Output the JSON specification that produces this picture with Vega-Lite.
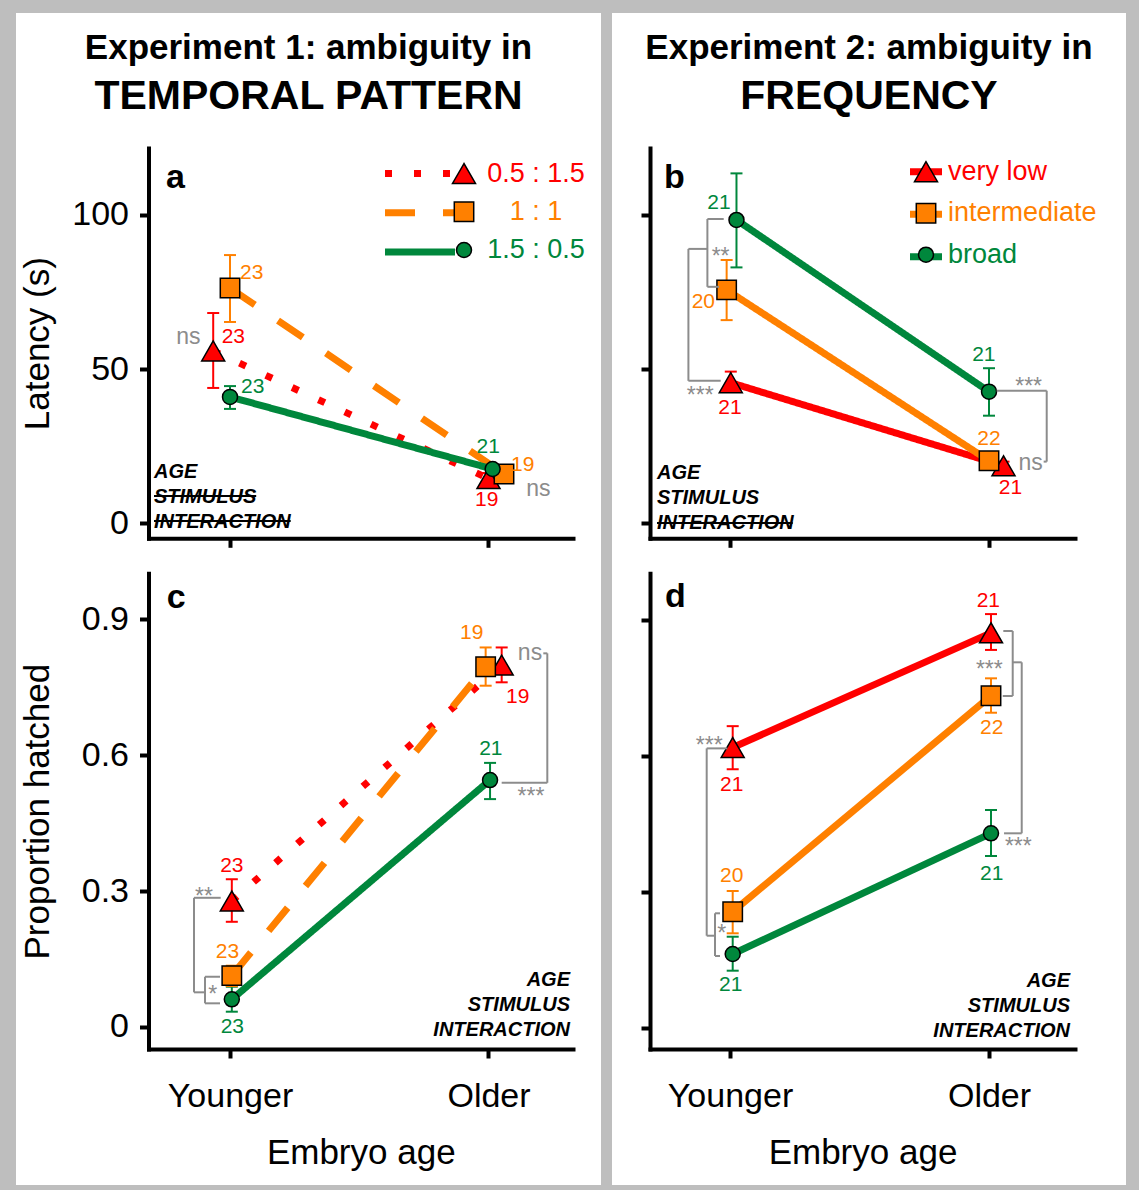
{
  "$schema": "https://vega.github.io/schema/vega-lite/v6.json",
  "background": "#bebebe",
  "padding": {"left": 16, "top": 13, "right": 13, "bottom": 5},
  "spacing": 11,
  "config": {
    "font": "Liberation Sans",
    "view": {"fill": "white", "stroke": null},
    "axis": {"domainColor": "black", "domainWidth": 4, "tickColor": "black", "tickWidth": 4, "tickSize": 9, "labelColor": "black", "titleColor": "black", "labelFontSize": 34, "titleFontSize": 35, "titleFontWeight": "normal", "grid": false, "domainCap": "square"}
  },
  "datasets": {
    "pts_a": [
      {"series": "0.5 : 1.5", "x": 0.935, "mean": 55.9, "lo": 43.9, "hi": 68.2},
      {"series": "0.5 : 1.5", "x": 2.0, "mean": 14.5, "lo": 12.7, "hi": 16.3},
      {"series": "1 : 1", "x": 1.0, "mean": 76.3, "lo": 65.3, "hi": 87.0},
      {"series": "1 : 1", "x": 2.06, "mean": 16.0, "lo": 14.5, "hi": 17.5},
      {"series": "1.5 : 0.5", "x": 1.0, "mean": 41.0, "lo": 37.1, "hi": 44.5},
      {"series": "1.5 : 0.5", "x": 2.016, "mean": 17.6, "lo": 16.2, "hi": 19.0}
    ],
    "lab_a": [
      {"series": "1 : 1", "text": "23", "x": 1.084, "y": 81.1},
      {"series": "0.5 : 1.5", "text": "23", "x": 1.013, "y": 60.5},
      {"series": "1.5 : 0.5", "text": "23", "x": 1.088, "y": 44.3},
      {"series": "1.5 : 0.5", "text": "21", "x": 1.999, "y": 24.8},
      {"series": "1 : 1", "text": "19", "x": 2.132, "y": 18.9},
      {"series": "0.5 : 1.5", "text": "19", "x": 1.993, "y": 7.6}
    ],
    "sig_a": [
      {"text": "ns", "x": 0.839, "y": 60.3},
      {"text": "ns", "x": 2.193, "y": 11.0}
    ],
    "pts_b": [
      {"series": "very low", "x": 1.003, "mean": 45.6, "lo": 43.2, "hi": 49.2},
      {"series": "very low", "x": 2.056, "mean": 18.65, "lo": 16.3, "hi": 20.0},
      {"series": "intermediate", "x": 0.987, "mean": 75.7, "lo": 65.9, "hi": 85.4},
      {"series": "intermediate", "x": 2.0, "mean": 20.3, "lo": 19.3, "hi": 21.3},
      {"series": "broad", "x": 1.025, "mean": 98.4, "lo": 83.0, "hi": 113.5},
      {"series": "broad", "x": 2.0, "mean": 42.7, "lo": 34.9, "hi": 50.3}
    ],
    "lab_b": [
      {"series": "broad", "text": "21", "x": 0.9575, "y": 103.8},
      {"series": "intermediate", "text": "20", "x": 0.897, "y": 71.9},
      {"series": "very low", "text": "21", "x": 1.0, "y": 37.3},
      {"series": "broad", "text": "21", "x": 1.98, "y": 54.6},
      {"series": "intermediate", "text": "22", "x": 2.0, "y": 27.2},
      {"series": "very low", "text": "21", "x": 2.083, "y": 11.35}
    ],
    "sig_b": [
      {"text": "**", "x": 0.9637, "y": 86.5},
      {"text": "***", "x": 0.885, "y": 41.3},
      {"text": "***", "x": 2.153, "y": 44.2},
      {"text": "ns", "x": 2.161, "y": 19.6}
    ],
    "br_b": [
      {"bx": 0.9127, "y1": 98.7, "a1": 0.9757, "y2": 76.7, "a2": 0.9575},
      {"bx": 0.8394, "y1": 89.0, "a1": 0.9127, "y2": 46.2, "a2": 0.964},
      {"bx": 2.2228, "y1": 43.0, "a1": 2.0297, "y2": 20.0, "a2": 2.211}
    ],
    "pts_c": [
      {"series": "0.5 : 1.5", "x": 1.007, "mean": 0.278, "lo": 0.232, "hi": 0.326},
      {"series": "0.5 : 1.5", "x": 2.051, "mean": 0.799, "lo": 0.761, "hi": 0.838},
      {"series": "1 : 1", "x": 1.007, "mean": 0.113, "lo": 0.09, "hi": 0.135},
      {"series": "1 : 1", "x": 1.989, "mean": 0.7955, "lo": 0.7535, "hi": 0.838},
      {"series": "1.5 : 0.5", "x": 1.007, "mean": 0.0608, "lo": 0.0334, "hi": 0.0886},
      {"series": "1.5 : 0.5", "x": 2.006, "mean": 0.545, "lo": 0.503, "hi": 0.583}
    ],
    "lab_c": [
      {"series": "0.5 : 1.5", "text": "23", "x": 1.007, "y": 0.355},
      {"series": "1 : 1", "text": "23", "x": 0.99, "y": 0.166},
      {"series": "1.5 : 0.5", "text": "23", "x": 1.009, "y": -0.001},
      {"series": "1 : 1", "text": "19", "x": 1.935, "y": 0.869},
      {"series": "0.5 : 1.5", "text": "19", "x": 2.113, "y": 0.729},
      {"series": "1.5 : 0.5", "text": "21", "x": 2.009, "y": 0.6137}
    ],
    "sig_c": [
      {"text": "**", "x": 0.8994, "y": 0.2874},
      {"text": "*", "x": 0.933, "y": 0.0696},
      {"text": "ns", "x": 2.1605, "y": 0.825},
      {"text": "***", "x": 2.1644, "y": 0.5083}
    ],
    "br_c": [
      {"bx": 0.9033, "y1": 0.1106, "a1": 0.9613, "y2": 0.0519, "a2": 0.9613},
      {"bx": 0.8607, "y1": 0.285, "a1": 0.964, "y2": 0.0762, "a2": 0.9033},
      {"bx": 2.2275, "y1": 0.825, "a1": 2.212, "y2": 0.539, "a2": 2.051}
    ],
    "pts_d": [
      {"series": "very low", "x": 1.0104, "mean": 0.619, "lo": 0.571, "hi": 0.666},
      {"series": "very low", "x": 2.0077, "mean": 0.8717, "lo": 0.834, "hi": 0.913},
      {"series": "intermediate", "x": 1.0104, "mean": 0.257, "lo": 0.2094, "hi": 0.3026},
      {"series": "intermediate", "x": 2.0077, "mean": 0.733, "lo": 0.6956, "hi": 0.7714},
      {"series": "broad", "x": 1.0104, "mean": 0.1638, "lo": 0.127, "hi": 0.2019},
      {"series": "broad", "x": 2.0077, "mean": 0.4298, "lo": 0.3798, "hi": 0.4812}
    ],
    "lab_d": [
      {"series": "very low", "text": "21", "x": 1.0066, "y": 0.5363},
      {"series": "intermediate", "text": "20", "x": 1.0066, "y": 0.3357},
      {"series": "broad", "text": "21", "x": 1.0027, "y": 0.0954},
      {"series": "very low", "text": "21", "x": 1.9973, "y": 0.9425},
      {"series": "intermediate", "text": "22", "x": 2.0104, "y": 0.661},
      {"series": "broad", "text": "21", "x": 2.0104, "y": 0.34}
    ],
    "sig_d": [
      {"text": "***", "x": 0.92, "y": 0.6222},
      {"text": "*", "x": 0.968, "y": 0.2072},
      {"text": "***", "x": 2.0012, "y": 0.7897},
      {"text": "***", "x": 2.1131, "y": 0.4003}
    ],
    "br_d": [
      {"bx": 0.9421, "y1": 0.2535, "a1": 0.9614, "y2": 0.1594, "a2": 0.9614},
      {"bx": 0.91, "y1": 0.617, "a1": 0.9896, "y2": 0.2041, "a2": 0.9421},
      {"bx": 2.0915, "y1": 0.8757, "a1": 2.0552, "y2": 0.7324, "a2": 2.053},
      {"bx": 2.1263, "y1": 0.8067, "a1": 2.0915, "y2": 0.4298, "a2": 2.058}
    ]
  },
  "resolve": {
    "scale": {"color": "independent", "shape": "independent", "size": "independent", "strokeDash": "independent"},
    "legend": {"color": "independent", "shape": "independent", "size": "independent", "strokeDash": "independent"}
  },
  "hconcat": [
    {
      "spacing": 0,
      "bounds": "flush",
      "resolve": {
        "scale": {"color": "independent", "shape": "independent", "size": "independent", "strokeDash": "independent"},
        "legend": {"color": "independent", "shape": "independent", "size": "independent", "strokeDash": "independent"}
      },
      "vconcat": [
        {
          "width": 585,
          "height": 547,
          "title": {"text": "Experiment 1: ambiguity in", "subtitle": "TEMPORAL PATTERN", "anchor": "middle", "frame": "group", "orient": "top", "offset": -103.6, "fontSize": 35, "fontWeight": "bold", "color": "black", "subtitleFontSize": 41, "subtitleFontWeight": "bold", "subtitleColor": "black", "subtitlePadding": 10.25},
          "resolve": {"legend": {"color": "independent", "shape": "independent", "size": "independent", "strokeDash": "independent"}},
          "layer": [
            {
              "data": {"name": "pts_a"},
              "mark": {"type": "line", "strokeWidth": 7},
              "encoding": {
                "x": {"field": "x", "type": "quantitative", "scale": {"domain": [0.6847, 2.3269], "range": [132.5, 557], "nice": false, "zero": false}, "axis": {"values": [1, 2], "labels": false, "title": null, "offset": -21.7}},
                "y": {"field": "mean", "type": "quantitative", "scale": {"domain": [-4.87, 121.73], "range": [525.3, 135], "nice": false, "zero": false}, "axis": {"values": [0, 50, 100], "format": "d", "title": "Latency (s)", "offset": -132.5, "labelPadding": 11, "titlePadding": 16}},
                "color": {"field": "series", "type": "nominal", "scale": {"domain": ["0.5 : 1.5", "1 : 1", "1.5 : 0.5"], "range": ["#ff0000", "#ff8000", "#00873c"]},
                  "legend": {"orient": "none", "legendX": 425.5, "legendY": 147, "title": null, "symbolType": "M -14 0 H 0", "symbolSize": 100, "symbolStrokeWidth": 7, "labelFontSize": 27, "labelOpacity": 0, "labelExpr": "''", "rowPadding": 10.25, "padding": 0}},
                "strokeDash": {"field": "series", "type": "nominal", "scale": {"domain": ["0.5 : 1.5", "1 : 1", "1.5 : 0.5"], "range": [[7, 22], [30, 28], [1, 0]]},
                  "legend": {"orient": "none", "legendX": 425.5, "legendY": 147, "title": null, "symbolType": "M -14 0 H 0", "symbolSize": 100, "symbolStrokeWidth": 7, "labelFontSize": 27, "labelOpacity": 0, "labelExpr": "''", "rowPadding": 10.25, "padding": 0}}
              }
            },
            {
              "data": {"name": "pts_a"},
              "mark": {"type": "rule", "strokeWidth": 2},
              "encoding": {
                "x": {"field": "x", "type": "quantitative"},
                "y": {"field": "lo", "type": "quantitative"},
                "y2": {"field": "hi"},
                "color": {"field": "series", "type": "nominal", "legend": null}
              }
            },
            {
              "data": {"name": "pts_a"},
              "mark": {"type": "tick", "orient": "horizontal", "size": 12, "thickness": 2, "opacity": 1},
              "encoding": {
                "x": {"field": "x", "type": "quantitative"},
                "y": {"field": "hi", "type": "quantitative"},
                "color": {"field": "series", "type": "nominal", "legend": null}
              }
            },
            {
              "data": {"name": "pts_a"},
              "mark": {"type": "tick", "orient": "horizontal", "size": 12, "thickness": 2, "opacity": 1},
              "encoding": {
                "x": {"field": "x", "type": "quantitative"},
                "y": {"field": "lo", "type": "quantitative"},
                "color": {"field": "series", "type": "nominal", "legend": null}
              }
            },
            {
              "data": {"name": "pts_a"},
              "mark": {"type": "point", "filled": true, "stroke": "black", "strokeWidth": 1.5, "opacity": 1},
              "encoding": {
                "x": {"field": "x", "type": "quantitative"},
                "y": {"field": "mean", "type": "quantitative"},
                "color": {"field": "series", "type": "nominal",
                  "legend": {"orient": "none", "legendX": 434.5, "legendY": 147, "title": null, "labelFontSize": 27, "labelAlign": "center", "labelOffset": 58.5, "labelColor": {"expr": "datum.value === '0.5 : 1.5' ? '#ff0000' : datum.value === '1 : 1' ? '#ff8000' : '#00873c'"}, "rowPadding": 10.25, "padding": 0, "symbolStrokeColor": "black", "symbolStrokeWidth": 1.5, "symbolOpacity": 1,
                    "encode": {"symbols": {"update": {"stroke": {"value": "black"}, "strokeWidth": {"value": 1.5}, "size": {"signal": "datum.value === '0.5 : 1.5' ? 529 : datum.value === '1 : 1' ? 225 : 289"}}}}}},
                "shape": {"field": "series", "type": "nominal", "scale": {"domain": ["0.5 : 1.5", "1 : 1", "1.5 : 0.5"], "range": ["triangle-up", "square", "circle"]},
                  "legend": {"orient": "none", "legendX": 434.5, "legendY": 147, "title": null, "labelFontSize": 27, "labelAlign": "center", "labelOffset": 58.5, "labelColor": {"expr": "datum.value === '0.5 : 1.5' ? '#ff0000' : datum.value === '1 : 1' ? '#ff8000' : '#00873c'"}, "rowPadding": 10.25, "padding": 0, "symbolStrokeColor": "black", "symbolStrokeWidth": 1.5, "symbolOpacity": 1,
                    "encode": {"symbols": {"update": {"stroke": {"value": "black"}, "strokeWidth": {"value": 1.5}, "size": {"signal": "datum.value === '0.5 : 1.5' ? 529 : datum.value === '1 : 1' ? 225 : 289"}}}}}},
                "size": {"field": "series", "type": "ordinal", "scale": {"domain": ["0.5 : 1.5", "1 : 1", "1.5 : 0.5"], "range": [529, 225, 289]},
                  "legend": {"orient": "none", "legendX": 434.5, "legendY": 147, "title": null, "labelFontSize": 27, "labelAlign": "center", "labelOffset": 58.5, "labelColor": {"expr": "datum.value === '0.5 : 1.5' ? '#ff0000' : datum.value === '1 : 1' ? '#ff8000' : '#00873c'"}, "rowPadding": 10.25, "padding": 0, "symbolStrokeColor": "black", "symbolStrokeWidth": 1.5, "symbolOpacity": 1,
                    "encode": {"symbols": {"update": {"stroke": {"value": "black"}, "strokeWidth": {"value": 1.5}, "size": {"signal": "datum.value === '0.5 : 1.5' ? 529 : datum.value === '1 : 1' ? 225 : 289"}}}}}}
              }
            },
            {
              "data": {"name": "lab_a"},
              "mark": {"type": "text", "fontSize": 21, "baseline": "middle", "align": "center"},
              "encoding": {
                "x": {"field": "x", "type": "quantitative"},
                "y": {"field": "y", "type": "quantitative"},
                "text": {"field": "text"},
                "color": {"field": "series", "type": "nominal", "legend": null}
              }
            },
            {
              "data": {"name": "sig_a"},
              "mark": {"type": "text", "fontSize": 23, "baseline": "middle", "align": "center", "color": "#8c8c8c"},
              "encoding": {
                "x": {"field": "x", "type": "quantitative"},
                "y": {"field": "y", "type": "quantitative"},
                "text": {"field": "text"}
              }
            },
            {
              "data": {"values": [{}]},
              "mark": {"type": "text", "text": "a", "fontSize": 34, "fontWeight": "bold", "align": "left", "baseline": "alphabetic", "color": "black"},
              "encoding": {
                "x": {"datum": 0.7524, "type": "quantitative"},
                "y": {"datum": 108.76, "type": "quantitative"}
              }
            },
            {
              "data": {"values": [{}]},
              "mark": {"type": "text", "text": ["AGE", "STIMULUS", "INTERACTION"], "lineHeight": 25, "fontSize": 20, "fontWeight": "bold", "fontStyle": "italic", "align": "left", "baseline": "alphabetic", "color": "black"},
              "encoding": {
                "x": {"datum": 0.706, "type": "quantitative"},
                "y": {"datum": 14.69, "type": "quantitative"}
              }
            },
            {
              "data": {"values": [{}]},
              "mark": {"type": "rule", "strokeWidth": 2, "color": "black"},
              "encoding": {
                "x": {"datum": 0.706, "type": "quantitative"},
                "x2": {"datum": 1.1013},
                "y": {"datum": 8.85, "type": "quantitative"}
              }
            },
            {
              "data": {"values": [{}]},
              "mark": {"type": "rule", "strokeWidth": 2, "color": "black"},
              "encoding": {
                "x": {"datum": 0.706, "type": "quantitative"},
                "x2": {"datum": 1.2348},
                "y": {"datum": 0.75, "type": "quantitative"}
              }
            }
          ]
        },
        {
          "width": 585,
          "height": 625,
          "resolve": {"legend": {"color": "independent", "shape": "independent", "size": "independent", "strokeDash": "independent"}},
          "layer": [
            {
              "data": {"name": "pts_c"},
              "mark": {"type": "line", "strokeWidth": 7},
              "encoding": {
                "x": {"field": "x", "type": "quantitative", "scale": {"domain": [0.6847, 2.3269], "range": [132.5, 557], "nice": false, "zero": false}, "axis": {"values": [1, 2], "labelExpr": "datum.value == 1 ? 'Younger' : 'Older'", "title": "Embryo age", "offset": -136, "labelPadding": 21, "titlePadding": 22}},
                "y": {"field": "mean", "type": "quantitative", "scale": {"domain": [-0.049, 1.0018], "range": [489, 13.3], "nice": false, "zero": false}, "axis": {"values": [0, 0.3, 0.6, 0.9], "format": ".1~f", "title": "Proportion hatched", "offset": -132.5, "labelPadding": 11, "titlePadding": 26}},
                "color": {"field": "series", "type": "nominal", "scale": {"domain": ["0.5 : 1.5", "1 : 1", "1.5 : 0.5"], "range": ["#ff0000", "#ff8000", "#00873c"]}, "legend": null},
                "strokeDash": {"field": "series", "type": "nominal", "scale": {"domain": ["0.5 : 1.5", "1 : 1", "1.5 : 0.5"], "range": [[7, 22], [30, 28], [1, 0]]}, "legend": null}
              }
            },
            {
              "data": {"name": "pts_c"},
              "mark": {"type": "rule", "strokeWidth": 2},
              "encoding": {
                "x": {"field": "x", "type": "quantitative"},
                "y": {"field": "lo", "type": "quantitative"},
                "y2": {"field": "hi"},
                "color": {"field": "series", "type": "nominal", "legend": null}
              }
            },
            {
              "data": {"name": "pts_c"},
              "mark": {"type": "tick", "orient": "horizontal", "size": 12, "thickness": 2, "opacity": 1},
              "encoding": {
                "x": {"field": "x", "type": "quantitative"},
                "y": {"field": "hi", "type": "quantitative"},
                "color": {"field": "series", "type": "nominal", "legend": null}
              }
            },
            {
              "data": {"name": "pts_c"},
              "mark": {"type": "tick", "orient": "horizontal", "size": 12, "thickness": 2, "opacity": 1},
              "encoding": {
                "x": {"field": "x", "type": "quantitative"},
                "y": {"field": "lo", "type": "quantitative"},
                "color": {"field": "series", "type": "nominal", "legend": null}
              }
            },
            {
              "data": {"name": "pts_c"},
              "mark": {"type": "point", "filled": true, "stroke": "black", "strokeWidth": 1.5, "opacity": 1},
              "encoding": {
                "x": {"field": "x", "type": "quantitative"},
                "y": {"field": "mean", "type": "quantitative"},
                "color": {"field": "series", "type": "nominal", "legend": null},
                "shape": {"field": "series", "type": "nominal", "scale": {"domain": ["0.5 : 1.5", "1 : 1", "1.5 : 0.5"], "range": ["triangle-up", "square", "circle"]}, "legend": null},
                "size": {"field": "series", "type": "ordinal", "scale": {"domain": ["0.5 : 1.5", "1 : 1", "1.5 : 0.5"], "range": [529, 225, 289]}, "legend": null}
              }
            },
            {
              "data": {"name": "br_c"},
              "mark": {"type": "rule", "strokeWidth": 2, "color": "#8c8c8c"},
              "encoding": {
                "x": {"field": "bx", "type": "quantitative"},
                "y": {"field": "y1", "type": "quantitative"},
                "y2": {"field": "y2"}
              }
            },
            {
              "data": {"name": "br_c"},
              "mark": {"type": "rule", "strokeWidth": 2, "color": "#8c8c8c"},
              "encoding": {
                "x": {"field": "bx", "type": "quantitative"},
                "x2": {"field": "a1"},
                "y": {"field": "y1", "type": "quantitative"}
              }
            },
            {
              "data": {"name": "br_c"},
              "mark": {"type": "rule", "strokeWidth": 2, "color": "#8c8c8c"},
              "encoding": {
                "x": {"field": "bx", "type": "quantitative"},
                "x2": {"field": "a2"},
                "y": {"field": "y2", "type": "quantitative"}
              }
            },
            {
              "data": {"name": "lab_c"},
              "mark": {"type": "text", "fontSize": 21, "baseline": "middle", "align": "center"},
              "encoding": {
                "x": {"field": "x", "type": "quantitative"},
                "y": {"field": "y", "type": "quantitative"},
                "text": {"field": "text"},
                "color": {"field": "series", "type": "nominal", "legend": null}
              }
            },
            {
              "data": {"name": "sig_c"},
              "mark": {"type": "text", "fontSize": 23, "baseline": "middle", "align": "center", "color": "#8c8c8c"},
              "encoding": {
                "x": {"field": "x", "type": "quantitative"},
                "y": {"field": "y", "type": "quantitative"},
                "text": {"field": "text"}
              }
            },
            {
              "data": {"values": [{}]},
              "mark": {"type": "text", "text": "c", "fontSize": 34, "fontWeight": "bold", "align": "left", "baseline": "alphabetic", "color": "black"},
              "encoding": {
                "x": {"datum": 0.7551, "type": "quantitative"},
                "y": {"datum": 0.9245, "type": "quantitative"}
              }
            },
            {
              "data": {"values": [{}]},
              "mark": {"type": "text", "text": ["AGE", "STIMULUS", "INTERACTION"], "lineHeight": 25, "fontSize": 20, "fontWeight": "bold", "fontStyle": "italic", "align": "right", "baseline": "alphabetic", "color": "black"},
              "encoding": {
                "x": {"datum": 2.3153, "type": "quantitative"},
                "y": {"datum": 0.0901, "type": "quantitative"}
              }
            }
          ]
        }
      ]
    },
    {
      "spacing": 0,
      "bounds": "flush",
      "resolve": {
        "scale": {"color": "independent", "shape": "independent", "size": "independent", "strokeDash": "independent"},
        "legend": {"color": "independent", "shape": "independent", "size": "independent", "strokeDash": "independent"}
      },
      "vconcat": [
        {
          "width": 514,
          "height": 547,
          "title": {"text": "Experiment 2: ambiguity in", "subtitle": "FREQUENCY", "anchor": "middle", "frame": "group", "orient": "top", "offset": -103.6, "fontSize": 35, "fontWeight": "bold", "color": "black", "subtitleFontSize": 41, "subtitleFontWeight": "bold", "subtitleColor": "black", "subtitlePadding": 10.25},
          "resolve": {"legend": {"color": "independent", "shape": "independent", "size": "independent", "strokeDash": "independent"}},
          "layer": [
            {
              "data": {"name": "pts_b"},
              "mark": {"type": "line", "strokeWidth": 7},
              "encoding": {
                "x": {"field": "x", "type": "quantitative", "scale": {"domain": [0.6911, 2.332], "range": [38, 463], "nice": false, "zero": false}, "axis": {"values": [1, 2], "labels": false, "title": null, "offset": -21.7}},
                "y": {"field": "mean", "type": "quantitative", "scale": {"domain": [-4.87, 121.73], "range": [525.3, 135], "nice": false, "zero": false}, "axis": {"values": [0, 50, 100], "labels": false, "title": null, "offset": -38}},
                "color": {"field": "series", "type": "nominal", "scale": {"domain": ["very low", "intermediate", "broad"], "range": ["#ff0000", "#ff8000", "#00873c"]},
                  "legend": {"orient": "none", "legendX": 300.5, "legendY": 145.2, "title": null, "symbolType": "M -3.2 0 H 3.2", "symbolSize": 100, "symbolStrokeWidth": 7, "labelFontSize": 27, "labelOpacity": 0, "labelExpr": "''", "rowPadding": 13.5, "padding": 0}},
                "strokeDash": {"field": "series", "type": "nominal", "scale": {"domain": ["very low", "intermediate", "broad"], "range": [[1, 0], [1, 0], [1, 0]]},
                  "legend": {"orient": "none", "legendX": 300.5, "legendY": 145.2, "title": null, "symbolType": "M -3.2 0 H 3.2", "symbolSize": 100, "symbolStrokeWidth": 7, "labelFontSize": 27, "labelOpacity": 0, "labelExpr": "''", "rowPadding": 13.5, "padding": 0}}
              }
            },
            {
              "data": {"name": "pts_b"},
              "mark": {"type": "rule", "strokeWidth": 2},
              "encoding": {
                "x": {"field": "x", "type": "quantitative"},
                "y": {"field": "lo", "type": "quantitative"},
                "y2": {"field": "hi"},
                "color": {"field": "series", "type": "nominal", "legend": null}
              }
            },
            {
              "data": {"name": "pts_b"},
              "mark": {"type": "tick", "orient": "horizontal", "size": 12, "thickness": 2, "opacity": 1},
              "encoding": {
                "x": {"field": "x", "type": "quantitative"},
                "y": {"field": "hi", "type": "quantitative"},
                "color": {"field": "series", "type": "nominal", "legend": null}
              }
            },
            {
              "data": {"name": "pts_b"},
              "mark": {"type": "tick", "orient": "horizontal", "size": 12, "thickness": 2, "opacity": 1},
              "encoding": {
                "x": {"field": "x", "type": "quantitative"},
                "y": {"field": "lo", "type": "quantitative"},
                "color": {"field": "series", "type": "nominal", "legend": null}
              }
            },
            {
              "data": {"name": "pts_b"},
              "mark": {"type": "point", "filled": true, "stroke": "black", "strokeWidth": 1.5, "opacity": 1},
              "encoding": {
                "x": {"field": "x", "type": "quantitative"},
                "y": {"field": "mean", "type": "quantitative"},
                "color": {"field": "series", "type": "nominal",
                  "legend": {"orient": "none", "legendX": 300.5, "legendY": 145.2, "title": null, "labelFontSize": 27, "labelAlign": "left", "labelOffset": 8.5, "labelColor": {"expr": "datum.value === 'very low' ? '#ff0000' : datum.value === 'intermediate' ? '#ff8000' : '#00873c'"}, "rowPadding": 13.5, "padding": 0, "symbolStrokeColor": "black", "symbolStrokeWidth": 1.5, "symbolOpacity": 1,
                    "encode": {"symbols": {"update": {"stroke": {"value": "black"}, "strokeWidth": {"value": 1.5}, "size": {"signal": "datum.value === 'very low' ? 529 : datum.value === 'intermediate' ? 225 : 289"}}}}}},
                "shape": {"field": "series", "type": "nominal", "scale": {"domain": ["very low", "intermediate", "broad"], "range": ["triangle-up", "square", "circle"]},
                  "legend": {"orient": "none", "legendX": 300.5, "legendY": 145.2, "title": null, "labelFontSize": 27, "labelAlign": "left", "labelOffset": 8.5, "labelColor": {"expr": "datum.value === 'very low' ? '#ff0000' : datum.value === 'intermediate' ? '#ff8000' : '#00873c'"}, "rowPadding": 13.5, "padding": 0, "symbolStrokeColor": "black", "symbolStrokeWidth": 1.5, "symbolOpacity": 1,
                    "encode": {"symbols": {"update": {"stroke": {"value": "black"}, "strokeWidth": {"value": 1.5}, "size": {"signal": "datum.value === 'very low' ? 529 : datum.value === 'intermediate' ? 225 : 289"}}}}}},
                "size": {"field": "series", "type": "ordinal", "scale": {"domain": ["very low", "intermediate", "broad"], "range": [529, 225, 289]},
                  "legend": {"orient": "none", "legendX": 300.5, "legendY": 145.2, "title": null, "labelFontSize": 27, "labelAlign": "left", "labelOffset": 8.5, "labelColor": {"expr": "datum.value === 'very low' ? '#ff0000' : datum.value === 'intermediate' ? '#ff8000' : '#00873c'"}, "rowPadding": 13.5, "padding": 0, "symbolStrokeColor": "black", "symbolStrokeWidth": 1.5, "symbolOpacity": 1,
                    "encode": {"symbols": {"update": {"stroke": {"value": "black"}, "strokeWidth": {"value": 1.5}, "size": {"signal": "datum.value === 'very low' ? 529 : datum.value === 'intermediate' ? 225 : 289"}}}}}}
              }
            },
            {
              "data": {"name": "br_b"},
              "mark": {"type": "rule", "strokeWidth": 2, "color": "#8c8c8c"},
              "encoding": {
                "x": {"field": "bx", "type": "quantitative"},
                "y": {"field": "y1", "type": "quantitative"},
                "y2": {"field": "y2"}
              }
            },
            {
              "data": {"name": "br_b"},
              "mark": {"type": "rule", "strokeWidth": 2, "color": "#8c8c8c"},
              "encoding": {
                "x": {"field": "bx", "type": "quantitative"},
                "x2": {"field": "a1"},
                "y": {"field": "y1", "type": "quantitative"}
              }
            },
            {
              "data": {"name": "br_b"},
              "mark": {"type": "rule", "strokeWidth": 2, "color": "#8c8c8c"},
              "encoding": {
                "x": {"field": "bx", "type": "quantitative"},
                "x2": {"field": "a2"},
                "y": {"field": "y2", "type": "quantitative"}
              }
            },
            {
              "data": {"name": "lab_b"},
              "mark": {"type": "text", "fontSize": 21, "baseline": "middle", "align": "center"},
              "encoding": {
                "x": {"field": "x", "type": "quantitative"},
                "y": {"field": "y", "type": "quantitative"},
                "text": {"field": "text"},
                "color": {"field": "series", "type": "nominal", "legend": null}
              }
            },
            {
              "data": {"name": "sig_b"},
              "mark": {"type": "text", "fontSize": 23, "baseline": "middle", "align": "center", "color": "#8c8c8c"},
              "encoding": {
                "x": {"field": "x", "type": "quantitative"},
                "y": {"field": "y", "type": "quantitative"},
                "text": {"field": "text"}
              }
            },
            {
              "data": {"values": [{}]},
              "mark": {"type": "text", "text": "b", "fontSize": 34, "fontWeight": "bold", "align": "left", "baseline": "alphabetic", "color": "black"},
              "encoding": {
                "x": {"datum": 0.7452, "type": "quantitative"},
                "y": {"datum": 108.66, "type": "quantitative"}
              }
            },
            {
              "data": {"values": [{}]},
              "mark": {"type": "text", "text": ["AGE", "STIMULUS", "INTERACTION"], "lineHeight": 25, "fontSize": 20, "fontWeight": "bold", "fontStyle": "italic", "align": "left", "baseline": "alphabetic", "color": "black"},
              "encoding": {
                "x": {"datum": 0.7181, "type": "quantitative"},
                "y": {"datum": 14.27, "type": "quantitative"}
              }
            },
            {
              "data": {"values": [{}]},
              "mark": {"type": "rule", "strokeWidth": 2, "color": "black"},
              "encoding": {
                "x": {"datum": 0.7181, "type": "quantitative"},
                "x2": {"datum": 1.2421},
                "y": {"datum": 0.1, "type": "quantitative"}
              }
            }
          ]
        },
        {
          "width": 514,
          "height": 625,
          "resolve": {"legend": {"color": "independent", "shape": "independent", "size": "independent", "strokeDash": "independent"}},
          "layer": [
            {
              "data": {"name": "pts_d"},
              "mark": {"type": "line", "strokeWidth": 7},
              "encoding": {
                "x": {"field": "x", "type": "quantitative", "scale": {"domain": [0.6911, 2.332], "range": [38, 463], "nice": false, "zero": false}, "axis": {"values": [1, 2], "labelExpr": "datum.value == 1 ? 'Younger' : 'Older'", "title": "Embryo age", "offset": -136, "labelPadding": 21, "titlePadding": 22}},
                "y": {"field": "mean", "type": "quantitative", "scale": {"domain": [-0.0456, 1.0029], "range": [489, 13.3], "nice": false, "zero": false}, "axis": {"values": [0, 0.3, 0.6, 0.9], "labels": false, "title": null, "offset": -38}},
                "color": {"field": "series", "type": "nominal", "scale": {"domain": ["very low", "intermediate", "broad"], "range": ["#ff0000", "#ff8000", "#00873c"]}, "legend": null}
              }
            },
            {
              "data": {"name": "pts_d"},
              "mark": {"type": "rule", "strokeWidth": 2},
              "encoding": {
                "x": {"field": "x", "type": "quantitative"},
                "y": {"field": "lo", "type": "quantitative"},
                "y2": {"field": "hi"},
                "color": {"field": "series", "type": "nominal", "legend": null}
              }
            },
            {
              "data": {"name": "pts_d"},
              "mark": {"type": "tick", "orient": "horizontal", "size": 12, "thickness": 2, "opacity": 1},
              "encoding": {
                "x": {"field": "x", "type": "quantitative"},
                "y": {"field": "hi", "type": "quantitative"},
                "color": {"field": "series", "type": "nominal", "legend": null}
              }
            },
            {
              "data": {"name": "pts_d"},
              "mark": {"type": "tick", "orient": "horizontal", "size": 12, "thickness": 2, "opacity": 1},
              "encoding": {
                "x": {"field": "x", "type": "quantitative"},
                "y": {"field": "lo", "type": "quantitative"},
                "color": {"field": "series", "type": "nominal", "legend": null}
              }
            },
            {
              "data": {"name": "pts_d"},
              "mark": {"type": "point", "filled": true, "stroke": "black", "strokeWidth": 1.5, "opacity": 1},
              "encoding": {
                "x": {"field": "x", "type": "quantitative"},
                "y": {"field": "mean", "type": "quantitative"},
                "color": {"field": "series", "type": "nominal", "legend": null},
                "shape": {"field": "series", "type": "nominal", "scale": {"domain": ["very low", "intermediate", "broad"], "range": ["triangle-up", "square", "circle"]}, "legend": null},
                "size": {"field": "series", "type": "ordinal", "scale": {"domain": ["very low", "intermediate", "broad"], "range": [529, 225, 289]}, "legend": null}
              }
            },
            {
              "data": {"name": "br_d"},
              "mark": {"type": "rule", "strokeWidth": 2, "color": "#8c8c8c"},
              "encoding": {
                "x": {"field": "bx", "type": "quantitative"},
                "y": {"field": "y1", "type": "quantitative"},
                "y2": {"field": "y2"}
              }
            },
            {
              "data": {"name": "br_d"},
              "mark": {"type": "rule", "strokeWidth": 2, "color": "#8c8c8c"},
              "encoding": {
                "x": {"field": "bx", "type": "quantitative"},
                "x2": {"field": "a1"},
                "y": {"field": "y1", "type": "quantitative"}
              }
            },
            {
              "data": {"name": "br_d"},
              "mark": {"type": "rule", "strokeWidth": 2, "color": "#8c8c8c"},
              "encoding": {
                "x": {"field": "bx", "type": "quantitative"},
                "x2": {"field": "a2"},
                "y": {"field": "y2", "type": "quantitative"}
              }
            },
            {
              "data": {"name": "lab_d"},
              "mark": {"type": "text", "fontSize": 21, "baseline": "middle", "align": "center"},
              "encoding": {
                "x": {"field": "x", "type": "quantitative"},
                "y": {"field": "y", "type": "quantitative"},
                "text": {"field": "text"},
                "color": {"field": "series", "type": "nominal", "legend": null}
              }
            },
            {
              "data": {"name": "sig_d"},
              "mark": {"type": "text", "fontSize": 23, "baseline": "middle", "align": "center", "color": "#8c8c8c"},
              "encoding": {
                "x": {"field": "x", "type": "quantitative"},
                "y": {"field": "y", "type": "quantitative"},
                "text": {"field": "text"}
              }
            },
            {
              "data": {"values": [{}]},
              "mark": {"type": "text", "text": "d", "fontSize": 34, "fontWeight": "bold", "align": "left", "baseline": "alphabetic", "color": "black"},
              "encoding": {
                "x": {"datum": 0.749, "type": "quantitative"},
                "y": {"datum": 0.9292, "type": "quantitative"}
              }
            },
            {
              "data": {"values": [{}]},
              "mark": {"type": "text", "text": ["AGE", "STIMULUS", "INTERACTION"], "lineHeight": 25, "fontSize": 20, "fontWeight": "bold", "fontStyle": "italic", "align": "right", "baseline": "alphabetic", "color": "black"},
              "encoding": {
                "x": {"datum": 2.3127, "type": "quantitative"},
                "y": {"datum": 0.0917, "type": "quantitative"}
              }
            }
          ]
        }
      ]
    }
  ]
}
